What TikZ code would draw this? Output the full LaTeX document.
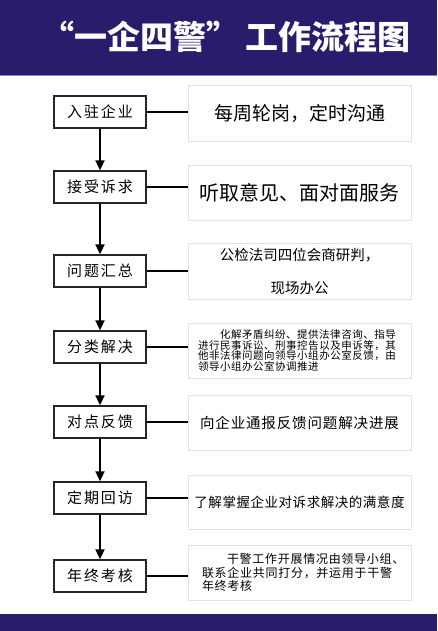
\documentclass[tikz,border=0pt]{standalone}
\usepackage{fontspec}
\newfontfamily\cjk{Noto Sans CJK SC}
\usetikzlibrary{arrows.meta}
\definecolor{navy}{HTML}{281C6D}
\definecolor{lineband}{HTML}{8F88C0}
\definecolor{rbord}{HTML}{E2E2E2}
\tikzset{
  stepbox/.style={draw=black!85, line width=1.3pt, minimum width=92pt, minimum height=32pt, inner sep=0pt,
    font=\cjk\fontsize{15}{15}\selectfont\addfontfeature{LetterSpace=13}},
  infobox/.style={draw=rbord, line width=0.8pt, minimum width=223pt, inner sep=0pt},
  flow/.style={line width=1.8pt, -{Triangle[length=10pt,width=9pt]}},
  link/.style={line width=1.3pt},
}
\begin{document}
\begin{tikzpicture}[x=1pt,y=-1pt]
\useasboundingbox (0,0) rectangle (437,631);
\fill[white] (0,0) rectangle (437,631);
\fill[navy] (0,0) rectangle (437,75);
\fill[lineband] (0,75) rectangle (437,76.5);
\fill[navy] (0,614) rectangle (437,631);
\node[text=white, font=\cjk\bfseries\fontsize{33}{33}\selectfont] (title) at (226,37) {“一企四警”\hspace{6pt}工作流程图};

\node[stepbox] (s1) at (100,112) {入驻企业};
\node[stepbox] (s2) at (100,187) {接受诉求};
\node[stepbox] (s3) at (100,271) {问题汇总};
\node[stepbox] (s4) at (100,347) {分类解决};
\node[stepbox] (s5) at (100,422) {对点反馈};
\node[stepbox] (s6) at (100,498) {定期回访};
\node[stepbox] (s7) at (100,576) {年终考核};

\node[infobox, minimum height=56pt, font=\cjk\fontsize{19}{19}\selectfont] (r1) at (299.5,113) {每周轮岗，定时沟通};
\node[infobox, minimum height=55pt, font=\cjk\fontsize{20}{20}\selectfont] (r2) at (299.5,192.5) {听取意见、面对面服务};
\node[infobox, minimum height=56pt, align=center, font=\cjk\fontsize{14.5}{33}\selectfont] (r3) at (299.5,271) {公检法司四位会商研判，\\现场办公};
\node[infobox, minimum height=55pt, text width=203pt, inner xsep=10pt, align=left,
  font=\cjk\fontsize{10.5}{10.8}\selectfont\addfontfeature{LetterSpace=5}] (r4) at (299.5,350.5)
  {\hspace*{22pt}化解矛盾纠纷、提供法律咨询、指导\\进行民事诉讼、刑事控告以及申诉等，其\\他非法律问题向领导小组办公室反馈，由\\领导小组办公室协调推进};
\node[infobox, minimum height=55pt, font=\cjk\fontsize{14.5}{14.5}\selectfont\addfontfeature{LetterSpace=6}] (r5) at (299.5,422.5) {向企业通报反馈问题解决进展};
\node[infobox, minimum height=54pt, font=\cjk\fontsize{13.5}{13.5}\selectfont\addfontfeature{LetterSpace=4}] (r6) at (299.5,502) {了解掌握企业对诉求解决的满意度};
\node[infobox, minimum height=55pt, text width=195pt, inner xsep=14pt, align=left,
  font=\cjk\fontsize{12}{13.5}\selectfont\addfontfeature{LetterSpace=6}] (r7) at (299.5,572.5)
  {\hspace*{25pt}干警工作开展情况由领导小组、\\联系企业共同打分，并运用于干警\\年终考核};

\draw[flow] (s1) -- (s2);
\draw[flow] (s2) -- (s3);
\draw[flow] (s3) -- (s4);
\draw[flow] (s4) -- (s5);
\draw[flow] (s5) -- (s6);
\draw[flow] (s6) -- (s7);

\draw[link] (s1.east) -- (s1.east -| r1.west);
\draw[link] (s2.east) -- (s2.east -| r2.west);
\draw[link] (s3.east) -- (s3.east -| r3.west);
\draw[link] (s4.east) -- (s4.east -| r4.west);
\draw[link] (s5.east) -- (s5.east -| r5.west);
\draw[link] (s6.east) -- (s6.east -| r6.west);
\draw[link] (s7.east) -- (s7.east -| r7.west);
\end{tikzpicture}
\end{document}
